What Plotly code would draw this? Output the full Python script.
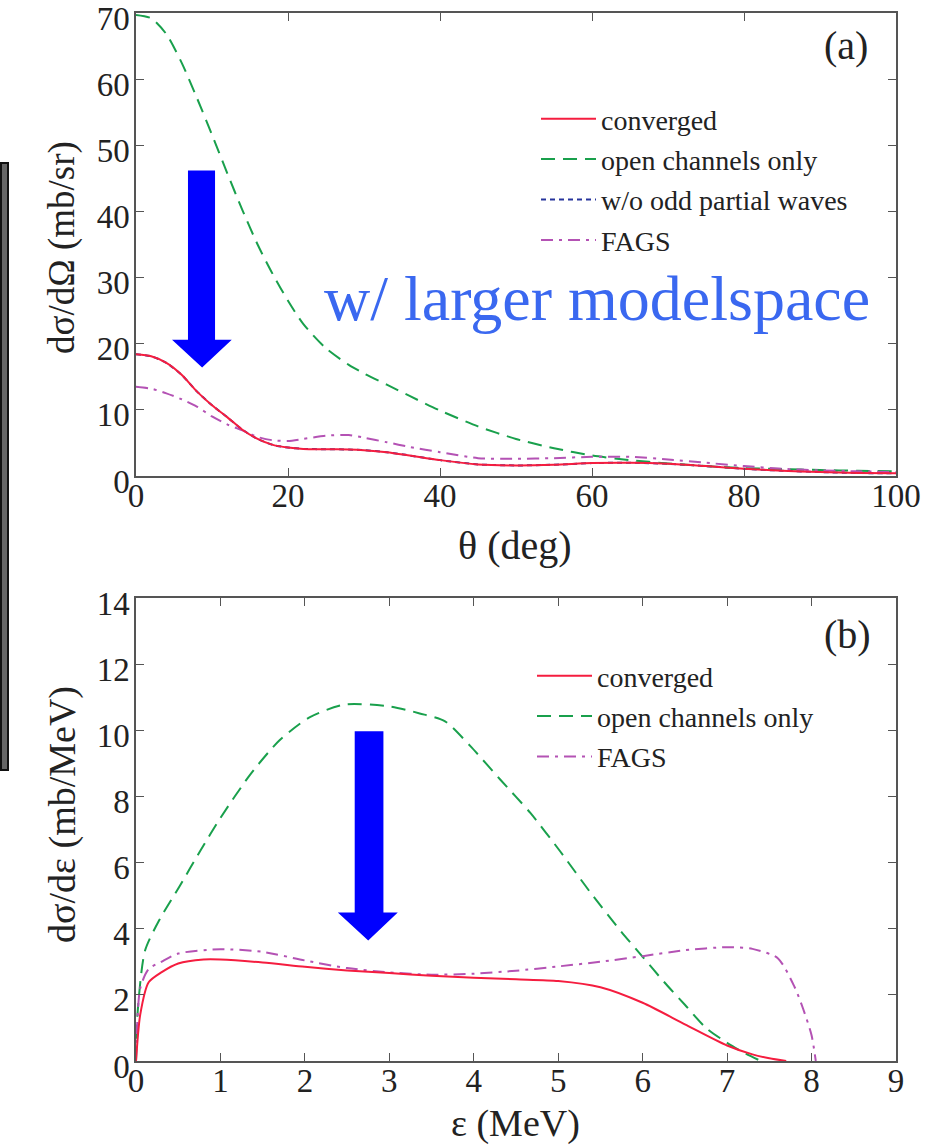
import plotly.graph_objects as go

# ---------------- data: panel (a) ----------------
theta = [0, 2, 4, 6, 8, 10, 12, 14, 16, 18, 20, 22, 25, 28, 30, 33, 36, 40, 45, 50,
         55, 60, 65, 70, 75, 80, 85, 90, 95, 100]
a_converged = [18.4, 18.1, 17.1, 15.3, 12.8, 10.7, 8.9, 7.0, 5.6, 4.7, 4.3, 4.1, 4.05, 4.0, 3.9,
               3.6, 3.1, 2.4, 1.75, 1.6, 1.7, 1.95, 2.0, 1.85, 1.5, 1.1, 0.8, 0.6, 0.45, 0.4]
a_wo_odd = [18.4, 18.1, 17.1, 15.3, 12.8, 10.7, 8.9, 7.0, 5.6, 4.7, 4.3, 4.1, 4.05, 4.0, 3.9,
            3.6, 3.1, 2.4, 1.75, 1.6, 1.7, 1.95, 2.0, 1.85, 1.5, 1.1, 0.8, 0.6, 0.45, 0.4]
a_open = [69.7, 69.2, 66.8, 62.5, 57.2, 51.6, 45.8, 40.2, 35.0, 30.5, 26.5, 23.0, 19.3, 16.8, 15.5,
          13.8, 12.1, 9.9, 7.5, 5.6, 4.2, 3.1, 2.4, 1.9, 1.5, 1.2, 1.05, 0.9, 0.8, 0.7]
a_fags = [13.5, 13.2, 12.5, 11.6, 10.5, 9.0, 7.8, 6.9, 5.9, 5.4, 5.3, 5.6, 6.1, 6.2, 5.8,
          5.1, 4.4, 3.6, 2.7, 2.6, 2.7, 2.9, 2.9, 2.5, 2.0, 1.5, 1.1, 0.85, 0.7, 0.6]

# ---------------- data: panel (b) ----------------
eps_conv = [0, 0.05, 0.15, 0.3, 0.5, 0.8, 1.0, 1.5, 2.0, 2.5, 3.0, 3.5, 4.0, 4.5, 5.0, 5.5, 6.0,
            6.5, 7.0, 7.3, 7.5, 7.7]
b_converged = [0, 1.4, 2.38, 2.68, 2.95, 3.07, 3.07, 2.98, 2.85, 2.74, 2.66, 2.58, 2.52, 2.47,
               2.42, 2.23, 1.76, 1.11, 0.47, 0.2, 0.08, 0.0]
eps_open = [0, 0.02, 0.107, 0.284, 0.52, 0.76, 1.0, 1.35, 1.7, 2.06, 2.475, 3.01, 3.36, 3.66,
            3.96, 4.31, 4.67, 5.02, 5.38, 5.75, 6.0, 6.25, 6.5, 6.75, 7.0, 7.2, 7.4]
b_open = [0, 1.5, 3.34, 4.3, 5.3, 6.35, 7.35, 8.65, 9.7, 10.4, 10.78, 10.72, 10.51, 10.27,
          9.52, 8.52, 7.5, 6.35, 5.1, 3.9, 3.15, 2.4, 1.7, 1.0, 0.55, 0.25, 0.0]
eps_fags = [0, 0.05, 0.15, 0.3, 0.5, 1.0, 1.5, 2.0, 2.5, 3.0, 3.5, 4.0, 4.5, 5.0, 5.5, 6.0, 6.5,
            7.0, 7.3, 7.6, 7.8, 7.9, 8.0, 8.05]
b_fags = [0, 2.2, 2.78, 3.0, 3.25, 3.38, 3.3, 3.04, 2.81, 2.68, 2.61, 2.64, 2.73, 2.86, 3.0, 3.17,
          3.35, 3.44, 3.39, 3.11, 2.23, 1.58, 0.78, 0.0]

RED = "#f51d3f"
GREEN = "#19a04c"
BLUE = "#26349c"
PURPLE = "#b452b4"
FONT = "Times New Roman, Liberation Serif, DejaVu Serif, serif"

fig = go.Figure()

def add(x, y, name, color, dash, xa, ya, leg, group, rank):
    fig.add_trace(go.Scatter(
        x=x, y=y, name=name, mode="lines", xaxis=xa, yaxis=ya,
        line=dict(color=color, width=2, dash=dash, shape="spline", smoothing=0.7),
        legend=leg, legendgroup=group, legendrank=rank))

add(theta, a_wo_odd, "w/o odd partial waves", BLUE, "5px,4px", "x", "y", "legend", "c", 3)
add(theta, a_open, "open channels only", GREEN, "14px,8px", "x", "y", "legend", "b", 2)
add(theta, a_fags, "FAGS", PURPLE, "12px,6px,3px,6px", "x", "y", "legend", "d", 4)
add(theta, a_converged, "converged", RED, "solid", "x", "y", "legend", "a", 1)

add(eps_open, b_open, "open channels only", GREEN, "14px,8px", "x2", "y2", "legend2", "b2", 2)
add(eps_fags, b_fags, "FAGS", PURPLE, "12px,6px,3px,6px", "x2", "y2", "legend2", "d2", 3)
add(eps_conv, b_converged, "converged", RED, "solid", "x2", "y2", "legend2", "a2", 1)

axis_common = dict(
    showline=True, linecolor="#555", linewidth=1.5, mirror="ticks",
    ticks="inside", ticklen=8, tickwidth=1.2, tickcolor="#555",
    showgrid=False, zeroline=False, automargin=False, ticklabeloverflow="allow",
    tickfont=dict(family=FONT, size=33, color="#222"),
)
xax = dict(axis_common, ticklabelstandoff=-10)
yax = dict(axis_common, ticklabelstandoff=-2, ticklabelshift=5)

top_dom = [(1061 - 476) / 1048, 1.0]
bot_dom = [0.0, (1061 - 598) / 1048]

fig.update_layout(
    width=940, height=1146,
    margin=dict(l=136, r=44, t=13, b=85, autoexpand=False),
    paper_bgcolor="white", plot_bgcolor="white",
    font=dict(family=FONT, color="#222"),
    xaxis=dict(xax, domain=[0, 1], range=[0, 100], dtick=20, anchor="y"),
    yaxis=dict(yax, domain=top_dom, range=[0, 70], dtick=10, anchor="x"),
    xaxis2=dict(xax, domain=[0, 1], range=[0, 9], dtick=1, anchor="y2"),
    yaxis2=dict(yax, domain=bot_dom, range=[0, 14], dtick=2, anchor="x2"),
    legend=dict(x=(536 - 136) / 760, y=(1061 - 94) / 1048, xanchor="left", yanchor="top",
                font=dict(family=FONT, size=28, color="#222"), bgcolor="rgba(0,0,0,0)",
                traceorder="grouped", tracegroupgap=1, itemwidth=55),
    legend2=dict(x=(532 - 136) / 760, y=(1061 - 651) / 1048, xanchor="left", yanchor="top",
                 font=dict(family=FONT, size=28, color="#222"), bgcolor="rgba(0,0,0,0)",
                 traceorder="grouped", tracegroupgap=1, itemwidth=55),
)

# arrows (data coordinates)
fig.add_shape(type="path", xref="x", yref="y", fillcolor="#0000ff", line=dict(width=0),
              path="M 6.84 46.2 L 10.4 46.2 L 10.4 20.6 L 12.6 20.6 L 8.7 16.4 L 4.74 20.6 L 6.84 20.6 Z")
fig.add_shape(type="path", xref="x2", yref="y2", fillcolor="#0000ff", line=dict(width=0),
              path="M 2.59 9.97 L 2.93 9.97 L 2.93 4.49 L 3.10 4.49 L 2.75 3.64 L 2.39 4.49 L 2.59 4.49 Z")

# left-edge artifact band
fig.add_shape(type="rect", xref="paper", yref="paper",
              x0=(1 - 136) / 760, x1=(8 - 136) / 760,
              y0=(1061 - 770) / 1048, y1=(1061 - 163) / 1048,
              line=dict(color="#111", width=2), fillcolor="#666")

ann = [
    dict(text="θ (deg)", x=(515 - 136) / 760, y=(1061 - 545) / 1048, size=40, angle=0),
    dict(text="ε (MeV)", x=(515 - 136) / 760, y=(1061 - 1123) / 1048, size=38, angle=0),
    dict(text="dσ/dΩ (mb/sr)", x=(62 - 136) / 760, y=(1061 - 248) / 1048, size=37, angle=-90),
    dict(text="dσ/dε (mb/MeV)", x=(62 - 136) / 760, y=(1061 - 815) / 1048, size=38, angle=-90),
    dict(text="(a)", x=(846 - 136) / 760, y=(1061 - 45) / 1048, size=40, angle=0),
    dict(text="(b)", x=(847 - 136) / 760, y=(1061 - 634) / 1048, size=40, angle=0),
]
for a in ann:
    fig.add_annotation(text=a["text"], x=a["x"], y=a["y"], xref="paper", yref="paper",
                       showarrow=False, textangle=a["angle"], xanchor="center", yanchor="middle",
                       font=dict(family=FONT, size=a["size"], color="#222"))

fig.add_annotation(text="w/ larger modelspace", x=(597 - 136) / 760, y=(1061 - 298) / 1048,
                   xref="paper", yref="paper", showarrow=False, xanchor="center", yanchor="middle",
                   font=dict(family=FONT, size=64, color="#3a68f0"))

fig.write_html("out.html")
